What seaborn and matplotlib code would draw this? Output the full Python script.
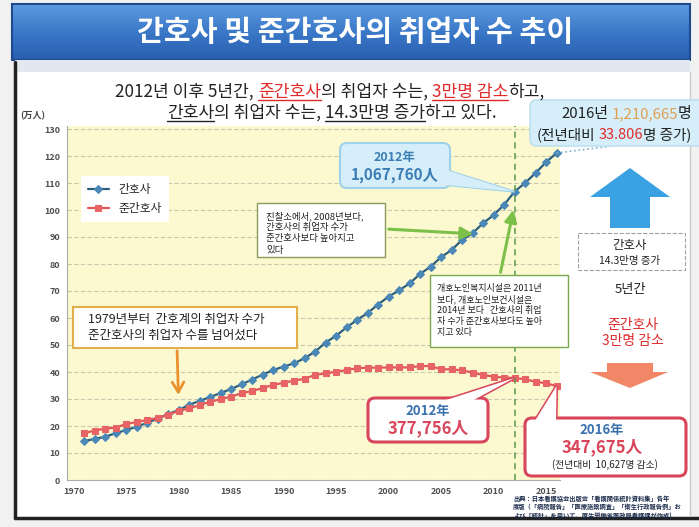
import numpy as np
import pandas as pd
import matplotlib
matplotlib.use("Agg")
import matplotlib.pyplot as plt
import seaborn as sns
from matplotlib.patches import FancyBboxPatch, Polygon, Rectangle
from matplotlib.colors import LinearSegmentedColormap

# data (万人)
years = list(range(1971, 2017))
nurse = [14.4, 15.2, 16.0, 17.3, 18.5, 19.7, 21.2, 22.7, 24.4, 25.9,
         27.8, 29.3, 30.7, 32.2, 33.7, 35.4, 37.2, 39.0, 40.7, 42.0,
         43.2, 45.1, 47.5, 50.9, 53.4, 56.5, 59.3, 61.8, 65.0, 67.9,
         70.2, 72.8, 76.3, 79.0, 82.5, 85.2, 88.9, 91.4, 95.1, 98.1,
         101.9, 106.8, 110.0, 113.7, 117.7, 121.1]
assistant = [17.3, 18.3, 19.0, 19.4, 20.7, 21.5, 22.2, 23.0, 24.1, 25.6,
             26.5, 27.7, 29.0, 29.9, 30.9, 32.1, 33.0, 34.0, 35.2, 36.0,
             36.8, 37.5, 38.9, 39.5, 40.1, 40.7, 41.4, 41.6, 41.6, 41.7,
             41.7, 41.7, 42.2, 42.2, 41.0, 41.0, 40.6, 39.8, 38.9, 38.3,
             37.9, 37.8, 37.3, 36.4, 35.8, 34.8]
labels = ["간호사", "준간호사"]
yticks = list(range(0, 131, 10))
xticks = list(range(1970, 2016, 5))

df = pd.DataFrame({"year": years * 2, "value": nurse + assistant,
                   "kind": [labels[0]] * len(years) + [labels[1]] * len(years)})

sns.set_theme(style="white")
plt.rcParams["font.family"] = ["Noto Sans CJK KR", "DejaVu Sans"]

fig = plt.figure(figsize=(6.99, 5.27), dpi=100)
fig.patch.set_facecolor("#f1f1f1")

bg = fig.add_axes([0, 0, 1, 1], zorder=0)
ax = fig.add_axes([67 / 699, 1 - 480 / 527, (560 - 67) / 699, (480 - 126.3) / 527], zorder=1)
ov = fig.add_axes([0, 0, 1, 1], zorder=2)

# ---- background / banner
bg.add_patch(Rectangle((15, 60), 675, 458, fc="white", ec="none"))
cmap = LinearSegmentedColormap.from_list("ban", ["#5f9ae0", "#3a78c8", "#2a5eae"])
bg.imshow(np.linspace(0, 1, 50).reshape(-1, 1), cmap=cmap, aspect="auto",
          extent=(12, 690, 60, 4), origin="upper")
bg.add_patch(Rectangle((12, 4), 678, 56, fill=False, ec="#1d4a8c", lw=1.5))
bg.add_patch(Rectangle((15, 60), 675, 12, fc="#e2e8ef", ec="none"))
bg.plot([15, 15], [62, 518], color="#222222", lw=2.5)
bg.plot([15, 699], [518, 518], color="#222222", lw=2.5)
bg.plot([690, 690], [72, 516], color="#cccccc", lw=1)
bg.text(355, 32, "간호사 및 준간호사의 취업자 수 추이", color="white", fontsize=21,
        fontweight="bold", ha="center", va="center")
bg.text(33, 116, "(万人)", fontsize=6.5, fontweight="bold", color="#444444",
        ha="center", va="center")
for a in (bg, ov):
    a.set_xlim(0, 699)
    a.set_ylim(527, 0)
    a.axis("off")

# ---- chart
ax.set_facecolor("#fcf9d0")
sns.lineplot(data=df[df.kind == labels[0]], x="year", y="value", ax=ax, color="#2d5f7c",
             lw=1.6, marker="D", markersize=4, markerfacecolor="#4b88b8",
             markeredgecolor="#4b88b8", label=labels[0], clip_on=False)
sns.lineplot(data=df[df.kind == labels[1]], x="year", y="value", ax=ax, color="#e0575a",
             lw=1.6, marker="s", markersize=4.3, markerfacecolor="#e86464",
             markeredgecolor="#e86464", label=labels[1], clip_on=False)
ax.set_xlim(1969.38, 2016.33)
ax.set_ylim(0, 131)
ax.set_yticks(yticks)
ax.set_xticks(xticks)
ax.set_xticks(range(1970, 2017), minor=True)
ax.grid(axis="y", ls=(0, (4, 2)), color="#c9c7b0", lw=0.8)
ax.axvline(2012, color="#5b9b45", ls=(0, (4, 3)), lw=1.1)
ax.tick_params(axis="both", which="major", labelsize=6.5, labelcolor="#505050",
               direction="in", length=3, width=0.6, color="#999999", pad=5)
ax.tick_params(axis="x", which="minor", direction="in", length=2, width=0.5, color="#999999")
for t in ax.get_xticklabels() + ax.get_yticklabels():
    t.set_fontweight("bold")
ax.set_xlabel("")
ax.set_ylabel("")
for s in ["top", "right"]:
    ax.spines[s].set_visible(False)
for s in ["left", "bottom"]:
    ax.spines[s].set_color("#aaaaaa")
    ax.spines[s].set_linewidth(0.8)
leg = ax.legend(loc="upper left", bbox_to_anchor=(0.016, 0.876), fontsize=8.5,
                frameon=True, fancybox=False, handlelength=1.8, borderpad=0.6)
leg.get_frame().set_facecolor("white")
leg.get_frame().set_edgecolor("none")
leg.get_frame().set_alpha(1)


def to_px(x, y):
    return ov.transData.inverted().transform(ax.transData.transform((x, y)))


renderer = fig.canvas.get_renderer()


def mixed(x, y, parts, size, ha="center", weight="normal"):
    # parts: (text, color, underline); trailing space -> gap
    gap = size * 100 / 72 * 0.23
    items = []
    for s, c, u in parts:
        sp = s.endswith(" ")
        t = ov.text(x, y, s.rstrip(" "), color=c, fontsize=size, fontweight=weight,
                    va="baseline", ha="left", zorder=5)
        items.append((t, c, u, sp))
    ws = [t.get_window_extent(renderer=renderer).width for t, _, _, _ in items]
    total = sum(ws) + gap * sum(1 for it in items if it[3])
    x0 = x - total / 2 if ha == "center" else x
    for (t, c, u, sp), w in zip(items, ws):
        t.set_x(x0)
        if u:
            ov.plot([x0, x0 + w], [y + 3, y + 3], color=c, lw=1, zorder=5)
        x0 += w + (gap if sp else 0)


def bubble(x0, y0, x1, y1, base, tip, fc, ec, lw, r=7):
    ov.add_patch(Polygon([base[0], tip, base[1]], closed=True, fc=fc, ec=ec, lw=lw, zorder=2.9))
    ov.add_patch(FancyBboxPatch((x0, y0), x1 - x0, y1 - y0,
                                boxstyle=f"round,pad=0,rounding_size={r}",
                                fc=fc, ec=ec, lw=lw, zorder=3))
    ov.add_patch(Polygon([base[0], tip, base[1]], closed=True, fc=fc, ec="none", zorder=3.1))


red = "#e02a2a"
k = "#222222"
# subtitle
mixed(330, 97, [("2012년 이후 5년간, ", k, False), ("준간호사", red, True),
                ("의 취업자 수는, ", k, False), ("3만명 감소", red, True), ("하고,", k, False)], 12.3)
mixed(332, 118, [("간호사", k, True), ("의 취업자 수는, ", k, False),
                 ("14.3만명 증가", k, True), ("하고 있다.", k, False)], 12.3)

# top right callout
ov.add_patch(FancyBboxPatch((530, 100), 200, 46, boxstyle="round,pad=0,rounding_size=7",
                            fc="#d6eef9", ec="#bde0f0", lw=1.2, zorder=3))
mixed(561, 118, [("2016년 ", k, False), ("1,210,665", "#e0a050", False), ("명", k, False)],
      10.8, ha="left")
mixed(537, 139, [("(전년대비 ", k, False), ("33.806", red, False), ("명 증가)", k, False)],
      10.5, ha="left")
p16 = to_px(2016, nurse[-1])
ov.plot([p16[0], 612], [p16[1], 146], color="#7aaed0", ls=":", lw=1.2, zorder=2.5)

# blue 2012 callout
bubble(340, 143, 450, 188, [(425, 183), (446, 170)], to_px(2012, nurse[41]),
       "#d6eef9", "#9fd1ea", 1.5)
ov.text(395, 157, "2012年", fontsize=9, fontweight="bold", color="#3b7db5",
        ha="center", va="center", zorder=5)
ov.text(395, 175, "1,067,760人", fontsize=11, fontweight="bold", color="#3b7db5",
        ha="center", va="center", zorder=5)

# red 2012 callout
bubble(368, 398, 488, 442, [(440, 402), (470, 402)], to_px(2012, assistant[41]),
       "white", "#d9455a", 2.2)
ov.text(428, 411, "2012年", fontsize=9.5, fontweight="bold", color="#3a72b0",
        ha="center", va="center", zorder=5)
ov.text(428, 428, "377,756人", fontsize=12, fontweight="bold", color="#d9455a",
        ha="center", va="center", zorder=5)

# red 2016 callout
bubble(525, 418, 686, 476, [(533, 424), (556, 422)], to_px(2016, assistant[-1]),
       "white", "#d9455a", 2.2)
ov.text(602, 430, "2016年", fontsize=9.5, fontweight="bold", color="#3a72b0",
        ha="center", va="center", zorder=5)
ov.text(602, 447, "347,675人", fontsize=12, fontweight="bold", color="#d9455a",
        ha="center", va="center", zorder=5)
ov.text(605, 465, "(전년대비  10,627명 감소)", fontsize=7, color=k,
        ha="center", va="center", zorder=5)

# orange note
ov.add_patch(Rectangle((73, 307), 224, 41, fc="white", ec="#e2b04a", lw=1.5, zorder=3))
ov.text(88, 320, "1979년부터  간호계의 취업자 수가", fontsize=9, color=k, va="center", zorder=5)
ov.text(88, 335, "준간호사의 취업자 수를 넘어섰다", fontsize=9, color=k, va="center", zorder=5)
ov.annotate("", xy=to_px(1980, 30.5), xytext=(177, 348),
            arrowprops=dict(arrowstyle="->,head_width=0.35,head_length=0.6",
                            color="#e8912e", lw=2), zorder=4)

# green notes
ov.add_patch(Rectangle((257, 203), 128, 54, fc="white", ec="#8a9a5a", lw=1, zorder=3))
for i, s in enumerate(["진찰소에서, 2008년보다,", "간호사의 취업자 수가",
                       "준간호사보다 높아지고", "있다"]):
    ov.text(266, 216 + i * 11.5, s, fontsize=6.8, color=k, va="center", zorder=5)
ov.annotate("", xy=(476, 234), xytext=(386, 229),
            arrowprops=dict(arrowstyle="-|>,head_width=0.3,head_length=0.6",
                            color="#7cc04a", lw=2.2), zorder=4)

ov.add_patch(Rectangle((430, 275), 138, 72, fc="white", ec="#7aa84a", lw=1, zorder=3))
for i, s in enumerate(["개호노인복지시설은 2011년", "보다, 개호노인보건시설은",
                       "2014년 보다   간호사의 취업", "자 수가 준간호사보다도 높아",
                       "지고 있다"]):
    ov.text(437, 288 + i * 11.2, s, fontsize=6.5, color=k, va="center", zorder=5)
ov.annotate("", xy=(514, 207), xytext=(500, 275),
            arrowprops=dict(arrowstyle="-|>,head_width=0.3,head_length=0.6",
                            color="#7cc04a", lw=2.2), zorder=4)

# right panel
ov.add_patch(Polygon([(590, 197), (630, 168), (670, 197), (650, 197), (650, 228),
                      (610, 228), (610, 197)], closed=True, fc="#3aa2e2", ec="none"))
ov.add_patch(Rectangle((578, 233), 107, 37, fill=False, ec="#99a3aa", ls="--", lw=0.8))
ov.text(630, 246, "간호사", fontsize=9, color=k, ha="center", va="center")
ov.text(630, 261, "14.3만명 증가", fontsize=7.5, color=k, ha="center", va="center")
ov.text(630, 289, "5년간", fontsize=9.5, color=k, ha="center", va="center")
ov.text(633, 325, "준간호사", fontsize=10, color=red, ha="center", va="center")
ov.text(633, 341, "3만명 감소", fontsize=10, color=red, ha="center", va="center")
ov.add_patch(Polygon([(607, 363), (653, 363), (653, 372), (668, 372), (630, 388),
                      (590, 372), (607, 372)], closed=True, fc="#f07a55", ec="none", alpha=0.9))

# source
src = ["出典：日本看護協会出版会「看護関係統計資料集」各年",
       "度版（「病院報告」「医療施設調査」「衛生行政報告例」お",
       "よび「統計」を用いて、厚生労働省医政局看護課が作成)"]
for i, s in enumerate(src):
    ov.text(513, 498 + i * 9, s, fontsize=4.5, fontweight="bold", color="#1a2a4a",
            va="center", family=["Noto Sans CJK JP", "DejaVu Sans"], zorder=5)

fig.savefig("out.png", dpi=100, facecolor=fig.get_facecolor())
